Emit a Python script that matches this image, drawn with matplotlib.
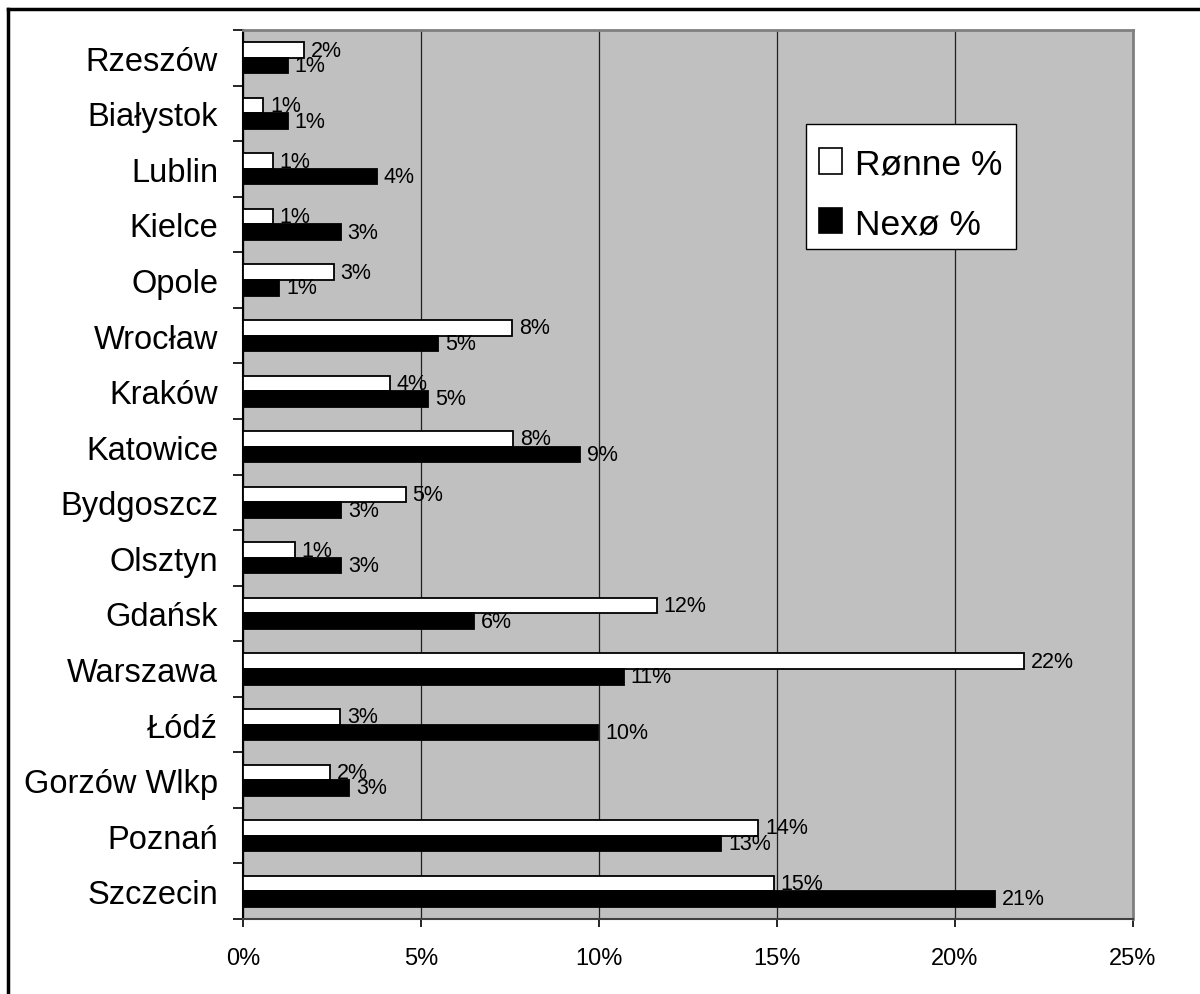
import matplotlib
matplotlib.use("Agg")
import matplotlib.pyplot as plt
from matplotlib.lines import Line2D
from matplotlib.patches import Patch, Rectangle
import numpy as np

plt.rcParams['font.family'] = ['Liberation Sans', 'DejaVu Sans']

cities = ["Rzeszów", "Białystok", "Lublin", "Kielce", "Opole", "Wrocław", "Kraków",
          "Katowice", "Bydgoszcz", "Olsztyn", "Gdańsk", "Warszawa", "Łódź",
          "Gorzów Wlkp", "Poznań", "Szczecin"]
ronne = [1.72, 0.56, 0.83, 0.83, 2.55, 7.55, 4.12, 7.59, 4.57, 1.45, 11.62, 21.95,
         2.73, 2.45, 14.48, 14.91]
nexo = [1.25, 1.25, 3.75, 2.74, 1.02, 5.49, 5.21, 9.46, 2.75, 2.75, 6.49, 10.70,
        9.97, 2.98, 13.43, 21.12]
series_names = ["Rønne %", "Nexø %"]
xticks = [0, 5, 10, 15, 20, 25]

W, H = 1200, 995
fig = plt.figure(figsize=(W / 100, H / 100), dpi=100)
ax = fig.add_axes([243 / W, 1 - 920 / H, (1133 - 243) / W, (920 - 31) / H])
ax.set_facecolor('#c0c0c0')

n = len(cities)
centers = np.arange(n) + 0.5
h = 0.28
b1 = ax.barh(centers - h / 2, ronne, height=h, color='white', edgecolor='black',
             linewidth=1.3, label=series_names[0], zorder=3)
b2 = ax.barh(centers + h / 2, nexo, height=h, color='black', edgecolor='black',
             linewidth=1.3, label=series_names[1], zorder=3)
ax.bar_label(b1, labels=[f"{v:.0f}%" for v in ronne], padding=5, fontsize=15.5, zorder=4)
ax.bar_label(b2, labels=[f"{v:.0f}%" for v in nexo], padding=5, fontsize=15.5, zorder=4)

ax.set_xlim(0, 25)
ax.set_ylim(n, 0)
ax.set_xticks(xticks)
ax.set_xticklabels([f"{t}%" for t in xticks], fontsize=17)
ax.xaxis.grid(True, color='#202020', linewidth=0.9, zorder=1)
ax.set_axisbelow(True)

ax.set_yticks(np.arange(n + 1))
ax.set_yticklabels([])
ax.set_yticks(centers, minor=True)
ax.set_yticklabels(cities, minor=True, fontsize=23.5)
ax.tick_params(axis='y', which='major', length=7.5, width=1.2, color='black', direction='out')
ax.tick_params(axis='y', which='minor', length=0, pad=18)
ax.tick_params(axis='x', length=6, width=1.2, color='black', direction='out', pad=14)

for s in ['top', 'right']:
    ax.spines[s].set_color('#808080')
    ax.spines[s].set_linewidth(2)
ax.spines['left'].set_color('black')
ax.spines['left'].set_linewidth(1.5)
ax.spines['bottom'].set_color('#404040')
ax.spines['bottom'].set_linewidth(1.5)

# legend frame drawn separately
fig.add_artist(Rectangle((806 / W, 1 - 250 / H), 210 / W, 125 / H, transform=fig.transFigure,
                         facecolor='white', edgecolor='black', linewidth=1.0, zorder=5))
handles = [Patch(facecolor='white', edgecolor='black', linewidth=1.2),
           Patch(facecolor='black', edgecolor='black', linewidth=1.2)]
leg = fig.legend(handles, series_names, loc='upper left',
                 bbox_to_anchor=(806 / W, 1 - 135 / H), borderaxespad=0,
                 fontsize=25.5, frameon=False, handlelength=0.65, handleheight=0.72,
                 handletextpad=0.35, labelspacing=0.75, borderpad=0.38)
leg.set_zorder(6)

# outer chart border
fig.add_artist(Line2D([8 / W, 1.0], [1 - 10 / H, 1 - 10 / H], color='black', linewidth=2.5,
                      transform=fig.transFigure))
fig.add_artist(Line2D([8 / W, 8 / W], [1 - 10 / H, 0], color='black', linewidth=2.5,
                      transform=fig.transFigure))

fig.savefig("out.png", dpi=100)
